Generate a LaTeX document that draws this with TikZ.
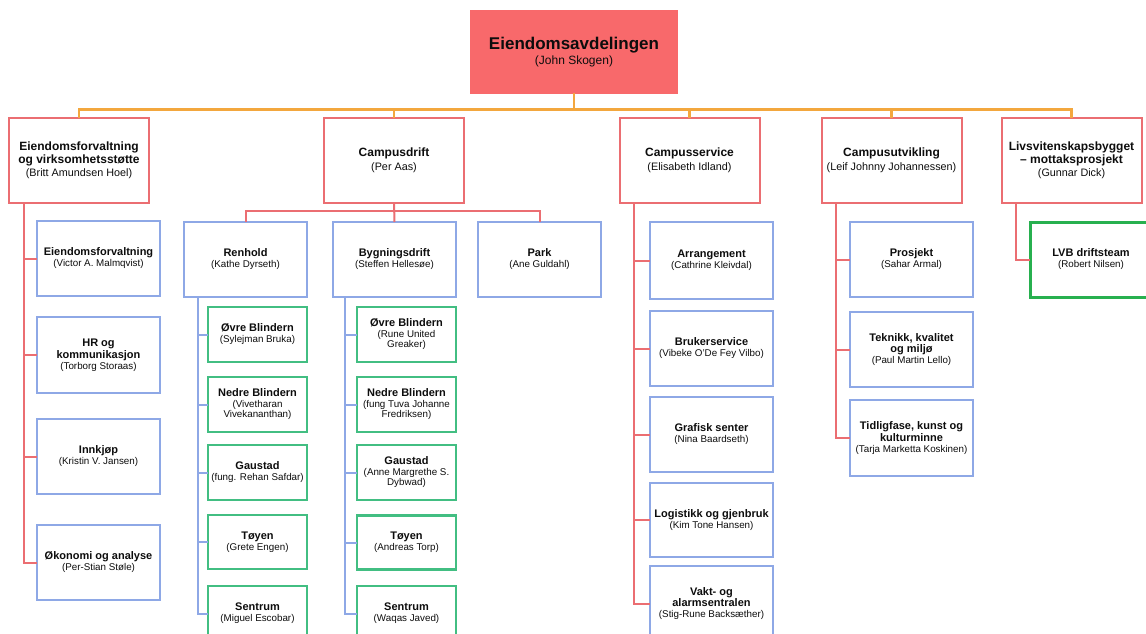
\documentclass[tikz,border=0pt]{standalone}
\usepackage{fontspec}
\setmainfont{Liberation Sans}
\definecolor{topfill}{HTML}{F8696B}
\definecolor{redline}{HTML}{EB6E72}
\definecolor{orangec}{HTML}{F3A73E}
\definecolor{bluec}{HTML}{8EA8E6}
\definecolor{greenc}{HTML}{42BE82}
\definecolor{greend}{HTML}{27B04F}
\newcommand\hA[1]{{\fontsize{11}{10}\selectfont\bfseries #1}}
\newcommand\sA[1]{{\fontsize{9.8}{10}\selectfont #1}}
\newcommand\hB[1]{{\fontsize{12}{11.5}\selectfont\bfseries #1}}
\newcommand\sB[1]{{\fontsize{10.8}{11.5}\selectfont #1}}
\newcommand\hT[1]{{\fontsize{17}{15}\selectfont\bfseries #1}}
\newcommand\sT[1]{{\fontsize{12}{15}\selectfont #1}}
\lineskiplimit=-100pt
\tikzset{
  box/.style={draw, fill=white, inner sep=0pt, outer sep=0pt, align=center, line width=2pt, text=black!95},
  topbox/.style={box, draw=topfill, fill=topfill, minimum width=206pt, minimum height=81pt, font=\fontsize{12}{15}\selectfont},
  lvone/.style={box, draw=redline, minimum width=140pt, minimum height=85pt, font=\fontsize{11}{11.5}\selectfont},
  bluebox/.style={box, draw=bluec, minimum width=123pt, minimum height=75pt, font=\fontsize{10}{10}\selectfont},
  greenbox/.style={box, draw=greenc, line width=2.5pt, minimum width=99pt, minimum height=55pt, font=\fontsize{10}{10}\selectfont},
  lvbbox/.style={box, draw=greend, line width=3pt, minimum width=122pt, minimum height=75pt, font=\fontsize{10}{10}\selectfont},
  orl/.style={draw=orangec, line width=2.5pt},
  rdl/.style={draw=redline, line width=2pt},
  bll/.style={draw=bluec, line width=2pt}
}
\begin{document}
\begin{tikzpicture}[x=1pt,y=-1pt]
\useasboundingbox (0,0) rectangle (1146,634);
\fill[white] (0,0) rectangle (1146,634);
\clip (0,0) rectangle (1146,634);

% top
\node[topbox] (top) at (574,52) {\hT{Eiendomsavdelingen}\\\sT{(John Skogen)}};

% level 1
\node[lvone] (B1) at (79,160.5) {\hB{Eiendomsforvaltning}\\[2pt]\hB{og virksomhetsstøtte}\\[1.5pt]\sB{(Britt Amundsen Hoel)}};
\node[lvone] (B2) at (394,160.5) {\hB{Campusdrift}\\[2pt]\sB{(Per Aas)}};
\node[lvone] (B3) at (689.5,160.5) {\hB{Campusservice}\\[2pt]\sB{(Elisabeth Idland)}};
\node[lvone] (B4) at (891.5,160.5) {\hB{Campusutvikling}\\[2pt]\sB{(Leif Johnny Johannessen)}};
\node[lvone] (B5) at (1071.5,160.5) {\hB{Livsvitenskapsbygget}\\[2pt]\hB{– mottaksprosjekt}\\[1.5pt]\sB{(Gunnar Dick)}};

% column 1
\node[bluebox] (e1) at (98.5,258.5) {\hA{Eiendomsforvaltning}\\[1pt]\sA{(Victor A. Malmqvist)}};
\node[bluebox, minimum height=76pt] (e2) at (98.5,355) {\hA{HR og}\\[1.5pt]\hA{kommunikasjon}\\[1pt]\sA{(Torborg Storaas)}};
\node[bluebox] (e3) at (98.5,456.5) {\hA{Innkjøp}\\[1pt]\sA{(Kristin V. Jansen)}};
\node[bluebox] (e4) at (98.5,562.5) {\hA{Økonomi og analyse}\\[1pt]\sA{(Per-Stian Støle)}};

% campusdrift
\node[bluebox] (ren) at (245.5,259.5) {\hA{Renhold}\\[1pt]\sA{(Kathe Dyrseth)}};
\node[bluebox] (byg) at (394.5,259.5) {\hA{Bygningsdrift}\\[1pt]\sA{(Steffen Hellesøe)}};
\node[bluebox] (park) at (539.5,259.5) {\hA{Park}\\[1pt]\sA{(Ane Guldahl)}};

\node[greenbox] (r1) at (257.5,334.5) {\hA{Øvre Blindern}\\[1pt]\sA{(Sylejman Bruka)}};
\node[greenbox] (r2) at (257.5,404.5) {\hA{Nedre Blindern}\\[1pt]\sA{(Vivetharan}\\\sA{Vivekananthan)}};
\node[greenbox] (r3) at (257.5,472.5) {\hA{Gaustad}\\[1pt]\sA{(fung. Rehan Safdar)}};
\node[greenbox, minimum height=54pt] (r4) at (257.5,542) {\hA{Tøyen}\\[1pt]\sA{(Grete Engen)}};
\node[greenbox] (r5) at (257.5,613.5) {\hA{Sentrum}\\[1pt]\sA{(Miguel Escobar)}};

\node[greenbox] (g1) at (406.5,334.5) {\hA{Øvre Blindern}\\[1pt]\sA{(Rune United}\\\sA{Greaker)}};
\node[greenbox] (g2) at (406.5,404.5) {\hA{Nedre Blindern}\\[1pt]\sA{(fung Tuva Johanne}\\\sA{Fredriksen)}};
\node[greenbox] (g3) at (406.5,472.5) {\hA{Gaustad}\\[1pt]\sA{(Anne Margrethe S.}\\\sA{Dybwad)}};
\node[greenbox, minimum height=54pt] (g4) at (406.5,542.5) {\hA{Tøyen}\\[1pt]\sA{(Andreas Torp)}};
\node[greenbox] (g5) at (406.5,613.5) {\hA{Sentrum}\\[1pt]\sA{(Waqas Javed)}};

% campusservice
\node[bluebox, minimum height=77pt] (s1) at (711.5,260.5) {\hA{Arrangement}\\[1pt]\sA{(Cathrine Kleivdal)}};
\node[bluebox] (s2) at (711.5,348.5) {\hA{Brukerservice}\\[1pt]\sA{(Vibeke O'De Fey Vilbo)}};
\node[bluebox] (s3) at (711.5,434.5) {\hA{Grafisk senter}\\[1pt]\sA{(Nina Baardseth)}};
\node[bluebox, minimum height=74pt] (s4) at (711.5,520) {\hA{Logistikk og gjenbruk}\\[1pt]\sA{(Kim Tone Hansen)}};
\node[bluebox] (s5) at (711.5,603.5) {\hA{Vakt- og}\\[1.5pt]\hA{alarmsentralen}\\[1pt]\sA{(Stig-Rune Backsæther)}};

% campusutvikling
\node[bluebox] (u1) at (911.5,259.5) {\hA{Prosjekt}\\[1pt]\sA{(Sahar Armal)}};
\node[bluebox] (u2) at (911.5,349.5) {\hA{Teknikk, kvalitet}\\[1.5pt]\hA{og miljø}\\[1pt]\sA{(Paul Martin Lello)}};
\node[bluebox, minimum height=76pt] (u3) at (911.5,438) {\hA{Tidligfase, kunst og}\\[1.5pt]\hA{kulturminne}\\[1pt]\sA{(Tarja Marketta Koskinen)}};

% LVB
\node[lvbbox] (lvb) at (1091,259.5) {\hA{LVB driftsteam}\\[1pt]\sA{(Robert Nilsen)}};

% connectors: top level
\draw[orl] (top.south) -- ++(0,17) coordinate (bus);
\foreach \n in {B1,B2,B3,B4,B5} { \draw[orl] (bus) -| (\n.north); }

% B1 children
\foreach \n in {e1,e2,e3,e4} { \draw[rdl] ([xshift=15pt]B1.south west) |- (\n.west); }

% B2 children
\draw[rdl] (B2.south) -- (byg.north);
\draw[rdl] (B2.south) ++(0,8) -| (ren.north);
\draw[rdl] (B2.south) ++(0,8) -| (park.north);

\foreach \n in {r1,r2,r3,r4,r5} { \draw[bll] ([xshift=14pt]ren.south west) |- (\n.west); }
\foreach \n in {g1,g2,g3,g4,g5} { \draw[bll] ([xshift=12pt]byg.south west) |- (\n.west); }

% B3, B4, B5 children
\foreach \n in {s1,s2,s3,s4,s5} { \draw[rdl] ([xshift=14pt]B3.south west) |- (\n.west); }
\foreach \n in {u1,u2,u3} { \draw[rdl] ([xshift=14pt]B4.south west) |- (\n.west); }
\draw[rdl] ([xshift=14pt]B5.south west) |- (lvb.west);
\end{tikzpicture}
\end{document}
